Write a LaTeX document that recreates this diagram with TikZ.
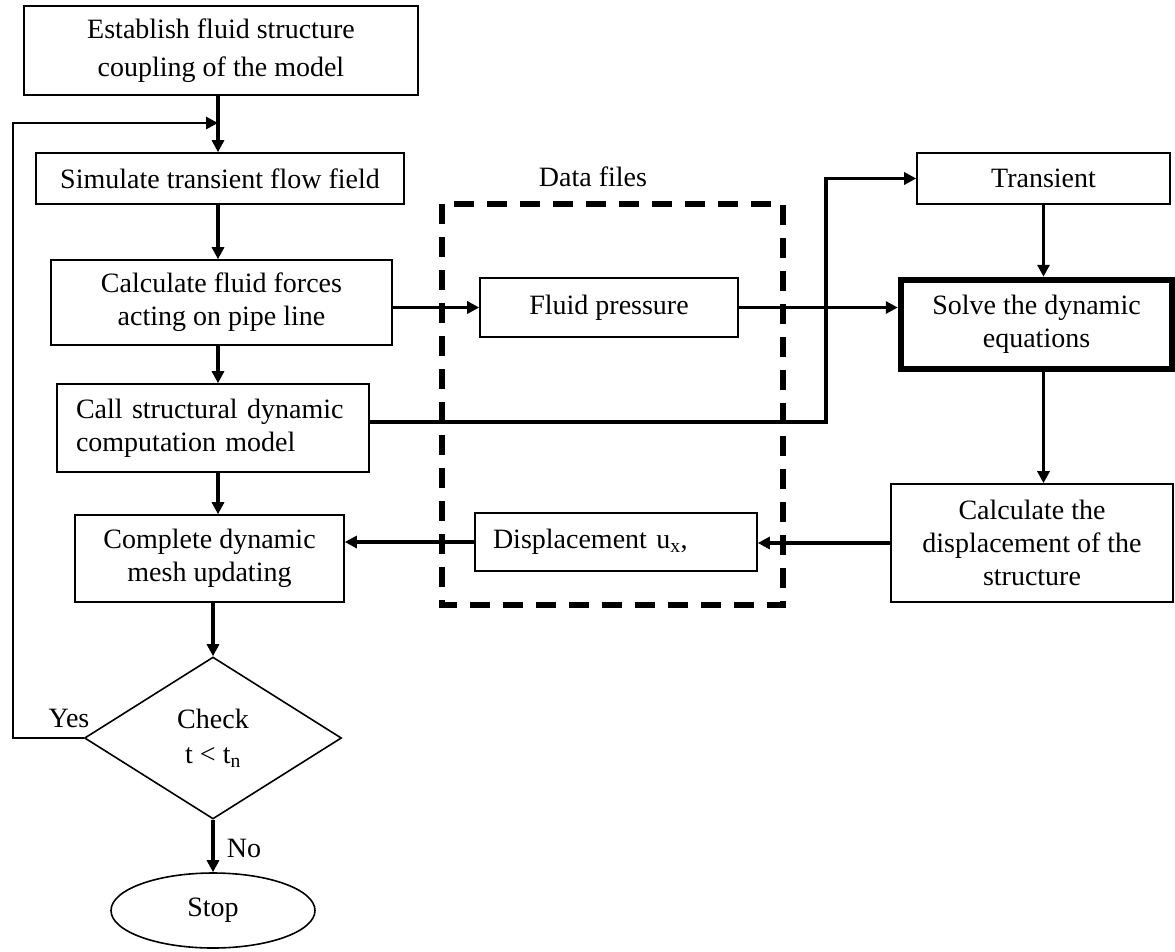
\documentclass[tikz,border=0pt]{standalone}
\usepackage{fontspec}
\setmainfont{Liberation Serif}
\usetikzlibrary{shapes.geometric,arrows.meta}
\begin{document}
\begin{tikzpicture}[x=1pt,y=-1pt,
  every node/.style={font=\fontsize{28}{33}\selectfont, inner sep=0pt},
  box/.style={draw, line width=1.6pt, rectangle, align=center, fill=white},
  arr/.style={line width=3.5pt, -{Triangle[length=12pt,width=12pt]}},
  ln/.style={line width=3.5pt},
  lbl/.style={}]
\useasboundingbox (0,0) rectangle (1175,951);
% dashed data files box
\draw[line width=5.5pt, dash pattern=on 20pt off 13pt] (442,204) rectangle (783,605);
\node[lbl] (df) at (593,177) {Data files};
% left column
\node[box, minimum width=394pt, minimum height=89pt, font=\fontsize{28}{38}\selectfont] (est) at (221,50.5) {Establish fluid structure\\coupling of the model};
\node[box, minimum width=368pt, minimum height=51pt] (sim) at (220,178.5) {Simulate transient flow field};
\node[box, minimum width=341pt, minimum height=85pt] (calc) at (221.5,302.5) {Calculate fluid forces\\acting on pipe line};
\node[box, minimum width=312pt, minimum height=88pt, text width=274pt, align=left] (call) at (213,428) {Call structural dynamic\\computation model};
\node[box, minimum width=269pt, minimum height=87pt] (comp) at (209.5,558.5) {Complete dynamic\\mesh updating};
\node[draw, line width=1.6pt, diamond, minimum width=257pt, minimum height=162pt, align=center, font=\fontsize{28}{35}\selectfont] (dia) at (213,738) {Check\\t < t\textsubscript{n}};
\node[draw, line width=1.6pt, ellipse, minimum width=204pt, minimum height=75pt] (stop) at (213,910.5) {Stop};
% middle
\node[box, minimum width=258pt, minimum height=59pt] (fp) at (609,307.5) {Fluid pressure};
\node[box, minimum width=282pt, minimum height=58pt, text width=246pt, inner xsep=18pt, align=left] (disp) at (616,542) {Displacement u\textsubscript{x},};
% right column
\node[box, minimum width=253pt, minimum height=51pt] (trans) at (1043.5,178.5) {Transient};
\node[box, line width=6.5pt, minimum width=271pt, minimum height=89pt] (solve) at (1036.5,324.5) {Solve the dynamic\\equations};
\node[box, minimum width=282pt, minimum height=118pt] (cdisp) at (1032,543) {Calculate the\\displacement of the\\structure};
% labels
\node (yes) at (69,718) {Yes};
\node (no) at (244,848) {No};
% coordinates
\coordinate (yesL) at (13,738);
\coordinate (loopEnd) at (218,123);
\coordinate (j1) at (826,422);
% connectors
\draw[arr] (est.south -| loopEnd) -- (sim.north -| loopEnd);
\draw[ln, line width=2.8pt, -{Triangle[length=12pt,width=12pt]}] (dia.west) -- (yesL) |- (loopEnd);
\draw[arr] (sim.south -| loopEnd) -- (calc.north -| loopEnd);
\draw[arr] (calc.south -| loopEnd) -- (call.north -| loopEnd);
\draw[arr] (call.south -| loopEnd) -- (comp.north -| loopEnd);
\draw[arr] (comp.south -| dia.north) -- (dia.north);
\draw[arr] (dia.south) -- (stop.north);
\draw[arr] (calc.east |- fp.west) -- (fp.west);
\draw[arr] (fp.east) -- (fp.east -| solve.west);
\draw[arr] (call.east |- j1) -- (j1) |- (trans.west);
\draw[arr] (trans.south) -- (trans.south |- solve.north);
\draw[arr] (solve.south -| trans.south) -- (cdisp.north -| trans.south);
\draw[arr] (cdisp.west) -- (cdisp.west -| disp.east);
\draw[arr] (disp.west) -- (disp.west -| comp.east);
\end{tikzpicture}
\end{document}
